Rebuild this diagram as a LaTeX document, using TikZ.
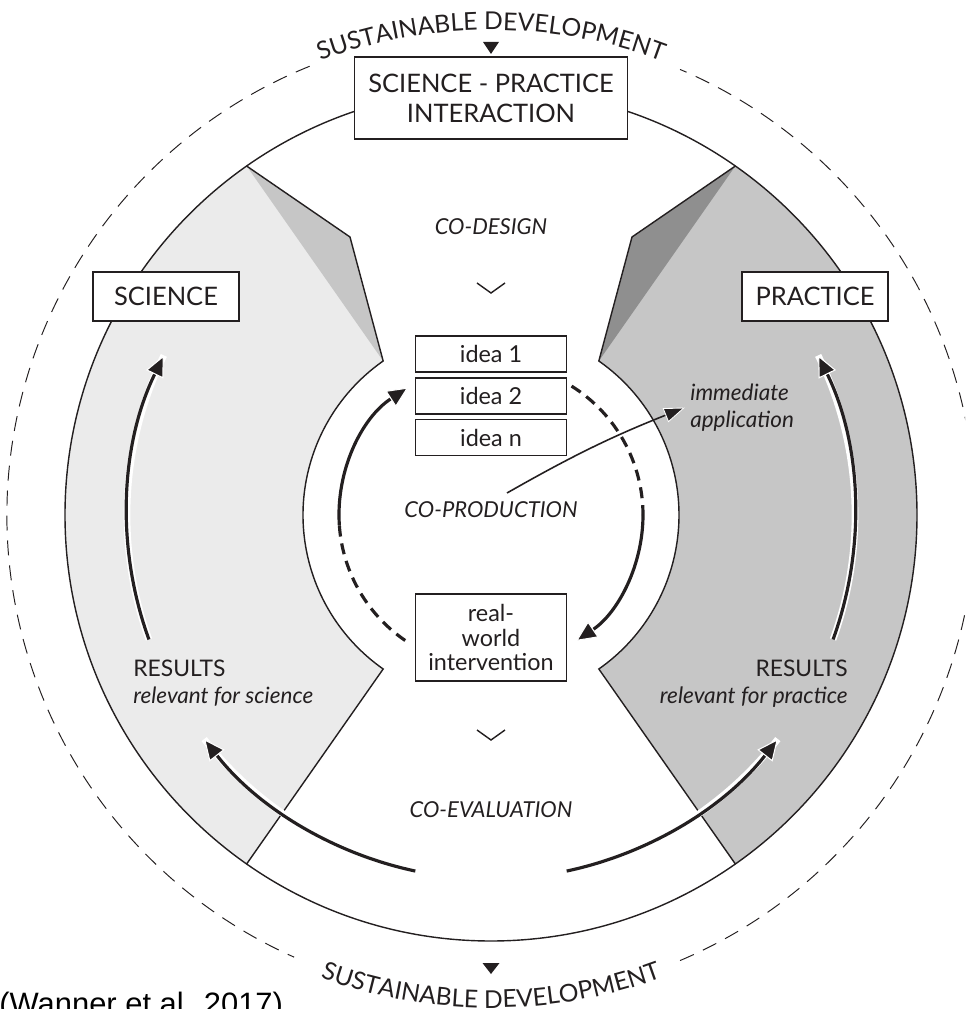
\documentclass[tikz,border=0pt]{standalone}
\usepackage{fontspec}
\setmainfont{Lato}
\newfontfamily\citefont{Liberation Sans}
\usepackage{tikz}
\usetikzlibrary{ arrows.meta,
                 positioning,      % For the stacked idea boxes
                 decorations.text, % For the curved ring labels
               }
\definecolor{ink}{HTML}{231F20}
\definecolor{sciencegray}{HTML}{EBEBEB}
\definecolor{sciencedark}{HTML}{C6C6C6}
\definecolor{practicegray}{HTML}{C6C6C6}
\definecolor{practicedark}{HTML}{8F8F8F}
\newcommand{\ringfont}{\fontsize{14}{17}\selectfont}

\tikzstyle{ring} = [draw=ink, line width=0.8pt]
\tikzstyle{outer} = [draw=ink, line width=0.55pt, dash pattern=on 0.3cm off 0.2cm]
\tikzstyle{box} = [rectangle, draw=ink, line width=1pt, fill=white, text=ink, inner sep=0pt, align=center]
\tikzstyle{titlebox} = [box, minimum width=5.46cm, minimum height=1.64cm, font=\fontsize{14.5}{17}\selectfont]
\tikzstyle{sidebox} = [box, minimum width=2.92cm, minimum height=0.98cm, font=\fontsize{14.5}{17}\selectfont]
\tikzstyle{ideabox} = [box, minimum width=3.02cm, minimum height=0.72cm, font=\fontsize{13.3}{14}\selectfont]
\tikzstyle{phase} = [text=ink, inner sep=0pt, font=\fontsize{12.5}{15}\selectfont\itshape]
\tikzstyle{result} = [text=ink, inner sep=0pt, font=\fontsize{13}{15.4}\selectfont]
\tikzstyle{chevron} = [draw=ink, line width=0.8pt]
\tikzstyle{loopflow} = [draw=ink, line width=1.8pt, -{Triangle[length=0.42cm, width=0.38cm, fill=ink, color=white, line width=0.6pt]}]
\tikzstyle{loopdash} = [draw=ink, line width=1.8pt, dash pattern=on 0.22cm off 0.14cm]
\tikzstyle{bigflow} = [loopflow, preaction={draw=white, line width=3.8pt, arrows=-}]
\tikzstyle{thinflow} = [draw=ink, line width=0.9pt, -{Triangle[length=0.42cm, width=0.3cm, fill=ink, color=white, line width=0.5pt]}]
\tikzstyle{ringtext} = [decorate, decoration={text along path, text align=center, text color=ink, text={|\ringfont|SUSTAINABLE DEVELOPMENT}}]

\begin{document}
\begin{tikzpicture}
  \useasboundingbox (-9.82,-9.88) rectangle (9.48,10.30);
  \clip (-9.82,-9.88) rectangle (9.48,10.30);

  % shaded sectors
  \fill[sciencegray] (125:8.52) -- (-2.82,5.56) -- (125:3.76) arc[start angle=125, end angle=235, radius=3.76]
    -- (235:8.52) arc[start angle=235, end angle=125, radius=8.52] -- cycle;
  \fill[sciencedark] (125:8.52) -- (-2.82,5.56) -- (125:3.76) -- cycle;
  \fill[practicegray] (55:8.52) -- (2.82,5.56) -- (55:3.76) arc[start angle=55, end angle=-55, radius=3.76]
    -- (-55:8.52) arc[start angle=-55, end angle=55, radius=8.52] -- cycle;
  \fill[practicedark] (55:8.52) -- (2.82,5.56) -- (55:3.76) -- cycle;
  \draw[ring] (125:8.52) -- (-2.82,5.56) -- (125:3.76) arc[start angle=125, end angle=235, radius=3.76] -- (235:8.52);
  \draw[ring] (55:8.52) -- (2.82,5.56) -- (55:3.76) arc[start angle=55, end angle=-55, radius=3.76] -- (-55:8.52);
  \draw[ring] (0,0) circle[radius=8.52];

  % sustainable development ring
  \draw[outer] (112:9.68) arc[start angle=112, end angle=246, radius=9.68];
  \draw[outer] (293:9.68) arc[start angle=293, end angle=427, radius=9.68];
  \path[ringtext] (120:9.7) arc[start angle=120, end angle=60, radius=9.7];
  \path[ringtext] (242:9.86) arc[start angle=242, end angle=298, radius=9.86];
  \fill[ink] (-0.16,9.46) -- (0.16,9.46) -- (0,9.22) -- cycle;
  \fill[ink] (-0.17,-8.96) -- (0.17,-8.96) -- (0,-9.18) -- cycle;

  \node (spi) [titlebox] at (0,8.34) {SCIENCE - PRACTICE\\INTERACTION};
  \node (science) [sidebox] at (-6.5,4.37) {SCIENCE};
  \node (practice) [sidebox] at (6.48,4.37) {PRACTICE};

  \node (idea1) [ideabox] at (0,3.22) {idea 1};
  \node (idea2) [ideabox, below=0.08cm of idea1] {idea 2};
  \node (idean) [ideabox, below=0.08cm of idea2] {idea n};
  \node (rwi) [ideabox, minimum height=1.74cm] at (0,-2.45) {real-\\world\\intervention};

  \node (codesign) [phase] at (0,5.76) {CO-DESIGN};
  \node (coprod) [phase] at (0,0.1) {CO-PRODUCTION};
  \node (coeval) [phase] at (0,-5.9) {CO-EVALUATION};
  \draw[chevron] (-0.28,4.64) -- (0,4.44) -- (0.28,4.64);
  \draw[chevron] (-0.28,-4.3) -- (0,-4.5) -- (0.28,-4.3);

  \node (ressci) [result, anchor=west, align=left] at (-7.16,-3.37)
    {RESULTS\\{\fontsize{12.8}{15.4}\selectfont\itshape relevant for science}};
  \node (respra) [result, anchor=east, align=right] at (7.14,-3.37)
    {RESULTS\\{\fontsize{12.9}{15.4}\selectfont\itshape relevant for practice}};
  \node (app) [phase, anchor=west, align=left, font=\fontsize{12.8}{15}\selectfont\itshape] at (3.98,2.15)
    {immediate\\application};
  \coordinate (prodtail) at (0.32,0.44);
  \draw[thinflow] (prodtail) to[bend left=4] ([xshift=-0.1cm]app.west);

  % co-production loop
  \coordinate (loopW) at (184:3.04);
  \coordinate (loopE) at (0:3.04);
  \draw[loopflow] (loopW) arc[start angle=184, end angle=123, radius=3.04];
  \draw[loopdash] (loopW) arc[start angle=184, end angle=237, radius=3.04];
  \draw[loopdash] (58:3.04) arc[start angle=58, end angle=0, radius=3.04];
  \draw[loopflow] (loopE) arc[start angle=0, end angle=-56, radius=3.04];

  % results flows
  \draw[bigflow] (200:7.28) arc[start angle=200, end angle=154, radius=7.28];
  \draw[bigflow] (-20:7.28) arc[start angle=-20, end angle=26, radius=7.28];
  \draw[bigflow] (258:7.28) arc[start angle=258, end angle=218, radius=7.28];
  \draw[bigflow] (282:7.28) arc[start angle=282, end angle=322, radius=7.28];

  \node (cite) [anchor=base west, inner sep=0pt, font=\citefont\fontsize{17.6}{20}\selectfont] at (-9.84,-9.98)
    {(Wanner et al. 2017)};
\end{tikzpicture}
\end{document}
